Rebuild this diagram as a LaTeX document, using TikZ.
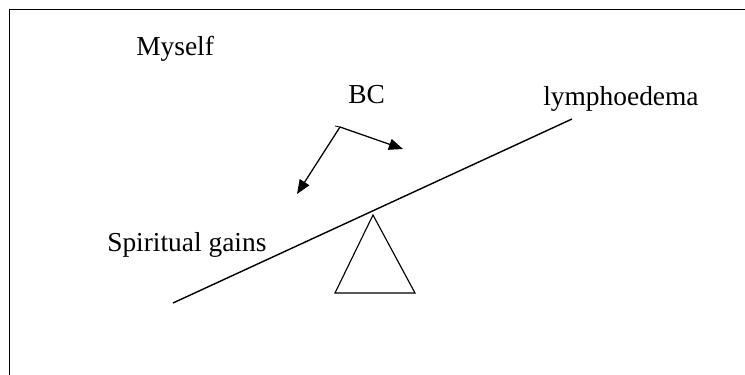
\documentclass[tikz,border=0pt]{standalone}
\usepackage{fontspec}
\setmainfont{Liberation Serif}
\usetikzlibrary{arrows.meta,positioning}

\begin{document}
\begin{tikzpicture}[x=0.025cm, y=-0.025cm,
  every node/.style={font=\fontsize{19.5}{23}\selectfont},
  lbl/.style={anchor=base west, inner sep=0pt},
  push/.style={-{Triangle[length=10pt,width=8pt]}, line width=0.9pt}]
\useasboundingbox (0,0) rectangle (745,375);
% frame
\coordinate (tl) at (9,9);
\coordinate (tr) at (745,9);
\coordinate (bl) at (9,375);
\draw[line width=0.6pt] (tr) -- (tl) -- (bl);
% labels
\node[lbl] (myself) at (136,55) {Myself};
\node[lbl] (bc) at (348,103) {BC};
\node[lbl] (lymph) at (543,105) {lymphoedema};
\node[lbl] (gains) at (107,251) {Spiritual gains};
% beam and fulcrum
\coordinate (beamL) at (173,303);
\coordinate (beamR) at (572,119);
\draw[line width=1pt] (beamL) -- (beamR);
\coordinate (apex) at (373,215);
\coordinate (baseL) at (335,293);
\coordinate (baseR) at (415,293);
\draw[line width=0.8pt] (apex) -- (baseL) -- (baseR) -- cycle;
% forces of BC
\coordinate (orig) at (340,127);
\coordinate (tick) at (335,126);
\coordinate (downL) at (297,194);
\coordinate (upR) at (403,149);
\draw[line width=0.6pt] (tick) -- (orig);
\draw[push] (orig) -- (downL);
\draw[push] (orig) -- (upR);
\end{tikzpicture}
\end{document}
